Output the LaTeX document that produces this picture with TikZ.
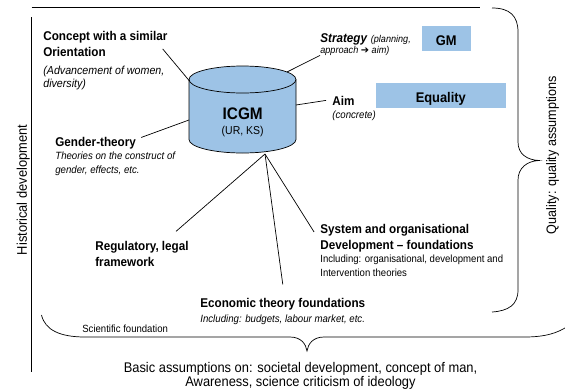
\documentclass[tikz,border=0pt]{standalone}
\usepackage{fontspec}
\setmainfont[FakeStretch=0.92]{Liberation Sans}
\newfontfamily\arrowfont{DejaVu Sans}
\usepackage{tikz}
\usetikzlibrary{positioning}
\definecolor{boxblue}{RGB}{157,195,230}
\newcommand{\headfont}{\fontsize{12.7}{16}\selectfont\bfseries}
\newcommand{\notefont}{\fontsize{10.5}{13.5}\selectfont\itshape}
\newcommand{\bignotefont}{\fontsize{11.6}{13.5}\selectfont\itshape}
\newcommand{\tinyfont}{\fontsize{9.9}{12}\selectfont\mdseries\itshape}
\newcommand{\plainfont}{\fontsize{10.4}{13.5}\selectfont}
\newcommand{\boxfont}{\fontsize{14}{16}\selectfont\bfseries}
\newcommand{\cylfont}{\fontsize{16.7}{20}\selectfont\bfseries}
\newcommand{\sidefont}{\fontsize{14}{14.5}\selectfont}

\begin{document}
\begin{tikzpicture}[x=1pt,y=1pt,line width=.7pt]
		\tikzstyle{head} = [font=\headfont, align=left, inner sep=0pt, anchor=north west]
		\tikzstyle{note} = [font=\notefont, align=left, inner sep=0pt, anchor=north west]
		\tikzstyle{plain} = [font=\plainfont, align=left, inner sep=0pt, anchor=north west]
		\tikzstyle{box} = [rectangle, fill=boxblue, inner sep=0pt, font=\boxfont, text height=13.4pt, text depth=0pt]
		\tikzstyle{side} = [font=\sidefont, rotate=90, anchor=base, inner sep=0pt]
		\tikzstyle{link} = [draw, line width=.7pt]
		\useasboundingbox (0,0) rectangle (565,-389);
		% frame lines and braces
		\draw (31.5,-7.5) -- (480,-7.5);
		\draw (31.5,-17) -- (31.5,-372);
		\draw (492,-8) .. controls (510,-8) and (518,-16) .. (518,-32) -- (518,-142)
			.. controls (518,-154) and (527,-160) .. (539,-160.5)
			.. controls (527,-161) and (518,-168) .. (518,-180) -- (518,-290)
			.. controls (518,-305) and (508,-311) .. (492,-312);
		\draw (41.5,-315) .. controls (45,-330) and (60,-337) .. (85,-337) -- (290,-337)
			.. controls (301,-337) and (306,-344) .. (307,-351)
			.. controls (308,-344) and (313,-337) .. (324,-337) -- (525,-337)
			.. controls (545,-337) and (558,-333) .. (568,-326);
		% cylinder
		\filldraw[fill=boxblue] (189,-79.5) -- (189,-139.5) arc[start angle=180, end angle=360, x radius=53.5, y radius=13.5]
			-- (296,-79.5) arc[start angle=0, end angle=180, x radius=53.5, y radius=13.5] -- cycle;
		\draw (189,-79.5) arc[start angle=180, end angle=360, x radius=53.5, y radius=13.5];
		\coordinate (c1) at (189.5,-81);
		\coordinate (c2) at (287,-72);
		\coordinate (c3) at (296,-105);
		\coordinate (c4) at (189,-120);
		\coordinate (c5) at (265,-154);
		\node (icgm) [font=\cylfont, anchor=base] at (242.7,-119.3) {ICGM};
		\node (icgmnote) [font=\fontsize{11.4}{13}\selectfont, anchor=base] at (242.7,-134.5) {(UR, KS)};
		% labels
		\node (concept) [head] at (43,-30.9) {Concept with a similar\\Orientation};
		\node (conceptnote) [note, font=\bignotefont, below right=8.7pt and 0pt of concept.south west] {(Advancement of women,\\diversity)};
		\node (strategy) [head, anchor=base west] at (320,-42) {\textit{Strategy} {\tinyfont (planning,}};
		\node (strategynote) [note, font=\tinyfont, anchor=base west] at (320,-53) {approach {\arrowfont\upshape ➔} aim)};
		\node (gm) [box, minimum width=49pt, minimum height=24.7pt] at (446.2,-38.3) {GM};
		\node (equality) [box, minimum width=130.5pt, minimum height=25.6pt] at (440.8,-95.5) {Equality};
		\node (aim) [head, anchor=base west] at (332,-105) {Aim};
		\node (aimnote) [note, below right=5.5pt and 0pt of aim.south west] {(concrete)};
		\node (gender) [head, anchor=base west] at (55,-146) {Gender-theory};
		\node (gendernote) [note, below right=2.8pt and 0pt of gender.south west] {Theories on the construct of\\gender, effects, etc.};
		\node (regulatory) [head] at (95,-241.4) {Regulatory, legal\\framework};
		\node (system) [head] at (320,-223.9) {System and organisational\\Development -- foundations};
		\node (systemnote) [plain, below right=2.4pt and 0pt of system.south west] {Including: organisational, development and\\Intervention theories};
		\node (economic) [head, anchor=base west] at (200,-307) {Economic theory foundations};
		\node (economicnote) [note, below right=4.9pt and 0pt of economic.south west] {Including: budgets, labour market, etc.};
		\node (science) [plain, anchor=base west] at (82,-332.7) {Scientific foundation};
		\node (basic) [font=\sidefont, align=center, inner sep=0pt, anchor=north] at (300.5,-361.5) {Basic assumptions on: societal development, concept of man,\\Awareness, science criticism of ideology};
		\node (history) [side] at (27,-190) {Historical development};
		\node (quality) [side, font=\fontsize{13.7}{14}\selectfont] at (556,-155) {Quality: quality assumptions};
		% connectors
		\path[link] ([shift={(-5,8)}]concept.south east) edge (c1);
		\path[link] (strategynote.south west) edge (c2);
		\path[link] ([xshift=-6pt]aim.west) edge (c3);
		\path[link] ([shift={(5,-1)}]gender.north east) edge (c4);
		\path[link] ([shift={(-13,10)}]regulatory.north east) edge (c5);
		\path[link] ([shift={(-6,-8)}]system.north west) edge (c5);
		\path[link] ([yshift=13pt]economic.north) edge (c5);
	\end{tikzpicture}
\end{document}
